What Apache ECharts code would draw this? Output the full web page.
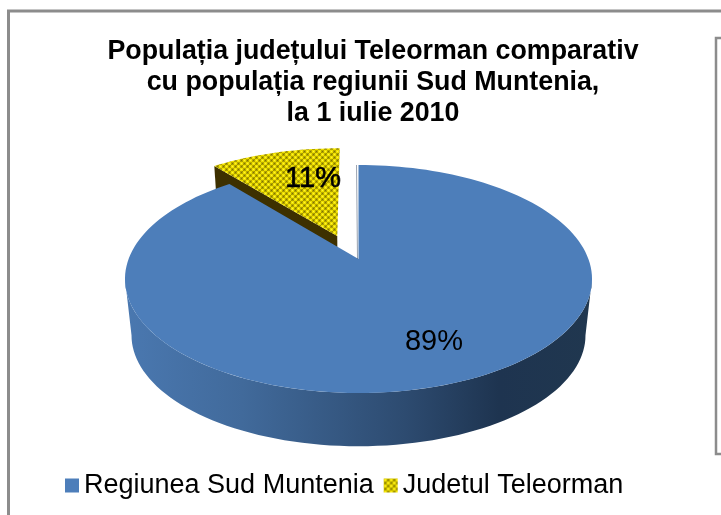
<!DOCTYPE html>
<html>
<head>
<meta charset="utf-8">
<style>html,body{margin:0;padding:0;background:#fff}#c{width:721px;height:515px}</style>
<script src="https://cdn.jsdelivr.net/npm/echarts@6/dist/echarts.min.js"></script>
</head>
<body>
<div id="c"></div>
<script>
const titleLines = ['Populația județului Teleorman comparativ', 'cu populația regiunii Sud Muntenia,', 'la 1 iulie 2010'];
const categories = ['Regiunea Sud Muntenia', 'Judetul Teleorman'];
const shares = [89, 11];

const total = shares.reduce((a, b) => a + b, 0);
const view = { cx: 358.5, cy: 259, a: 229.9, b: 110.5, k: 0.1754, drop: 57, lower: 0.972 };
const explode = [0, 0.23];
const shift = [-4, 0];
const labelPos = [[434, 342], [313, 179]];

function tile() {
  const c = document.createElement('canvas');
  c.width = 6; c.height = 6;
  const g = c.getContext('2d');
  g.fillStyle = '#7f7300'; g.fillRect(0, 0, 6, 6);
  const balls = [[1.5, 1.5], [4.5, 4.5], [7.5, 1.5], [-1.5, 4.5], [4.5, -1.5], [1.5, 7.5]];
  balls.forEach(b => {
    g.fillStyle = '#efe000';
    g.beginPath(); g.arc(b[0], b[1], 2, 0, Math.PI * 2); g.fill();
  });
  g.fillStyle = '#fff53c';
  g.fillRect(1, 1, 1, 1); g.fillRect(4, 4, 1, 1);
  return c;
}
const patternFill = { image: tile(), repeat: 'repeat' };
const wedgeFill = ['#4d7eba', patternFill];
const wallFill = [{
  type: 'linear', x: 0, y: 0, x2: 1, y2: 0,
  colorStops: [
    { offset: 0, color: '#4a78b0' }, { offset: 0.25, color: '#416a9b' },
    { offset: 0.6, color: '#2d4b70' }, { offset: 0.8, color: '#1e3450' }, { offset: 1, color: '#20374f' }
  ]
}, '#3d3000'];

function project(x, y, low) {
  const w = 1 + view.k * y;
  const X = view.a * x / w;
  const Y = -view.b * y / w;
  return low
    ? [view.cx + view.lower * X, view.cy + view.drop + view.lower * Y]
    : [view.cx + X, view.cy + Y];
}
function rim(deg, off, low) {
  const t = deg * Math.PI / 180;
  return project(Math.sin(t) + off[0], Math.cos(t) + off[1], low);
}
function arc(from, to, off, low) {
  const pts = [];
  const n = Math.max(8, Math.round(Math.abs(to - from) / 2));
  for (let i = 0; i <= n; i++) pts.push(rim(from + (to - from) * i / n, off, low));
  return pts;
}
function poly(points, fill, extra) {
  return Object.assign({ type: 'polygon', shape: { points }, style: { fill }, silent: true }, extra || {});
}
function move(pts, d) { return pts.map(p => [p[0] + d[0], p[1] + d[1]]); }

function renderWedge(i) {
  return function (params, api) {
    const before = shares.slice(0, i).reduce((a, b) => a + b, 0);
    const start = before / total * 360;
    const end = (before + api.value(0)) / total * 360;
    const mid = (start + end) / 2 * Math.PI / 180;
    const e = explode[i];
    const off = [Math.sin(mid) * e, Math.cos(mid) * e];
    const d = i === 1 ? shift : [0, 0];
    const apex = project(off[0], off[1], false);
    const apexLow = project(off[0], off[1], true);
    const kids = [];
    if (i === 0) {
      const a = Math.max(start, 100), b = Math.min(end, 260);
      const top = arc(a, b, off, false);
      const bot = arc(a, b, off, true).reverse();
      kids.push(poly(top.concat(bot), wallFill[i]));
    } else {
      const corner = rim(start, off, false);
      const cornerLow = rim(start, off, true);
      kids.push(poly(move([corner, apex, apexLow, cornerLow], d), wallFill[i]));
    }
    kids.push(poly(move(arc(start, end, off, false).concat([apex]), d), wedgeFill[i]));
    if (i === 0) {
      const back = rim(start, off, false);
      kids.push({ type: 'line', shape: { x1: apex[0] - 1, y1: apex[1], x2: back[0] - 2, y2: back[1] },
        style: { stroke: 'rgba(30,50,80,0.45)', lineWidth: 1 }, silent: true });
    }
    kids.push({
      type: 'text', silent: true, x: labelPos[i][0], y: labelPos[i][1],
      style: { text: api.value(0) + '%', fill: '#000', font: '29px "Liberation Sans", Arial, sans-serif', align: 'center', verticalAlign: 'middle',
        stroke: i === 1 ? '#000' : null, lineWidth: i === 1 ? 0.6 : 0 }
    });
    return { type: 'group', children: kids };
  };
}

const frame = '#8c8c8c';
const chart = echarts.init(document.getElementById('c'), null, { renderer: 'canvas' });
chart.setOption({
  animation: false,
  backgroundColor: '#fff',
  title: {
    text: titleLines.join('\n'),
    left: 368, top: 31, textAlign: 'center',
    textStyle: { fontFamily: '"Liberation Sans", Arial, sans-serif', fontWeight: 'bold', fontSize: 26.8, lineHeight: 31, color: '#000' }
  },
  legend: {
    left: 60, top: 467, itemWidth: 14, itemHeight: 14, itemGap: 10, icon: 'rect', selectedMode: false,
    textStyle: { fontFamily: '"Liberation Sans", Arial, sans-serif', fontSize: 27, color: '#000' },
    data: categories.map((name, i) => ({ name, itemStyle: { color: wedgeFill[i] } }))
  },
  graphic: [
    { type: 'polyline', shape: { points: [[8.5, 515], [8.5, 11], [721, 11]] }, style: { stroke: frame, lineWidth: 3, fill: null }, silent: true },
    { type: 'polyline', shape: { points: [[721, 38], [716, 38], [716, 454], [721, 454]] }, style: { stroke: frame, lineWidth: 2.5, fill: null }, silent: true }
  ],
  series: categories.map((name, i) => ({
    type: 'custom', name, coordinateSystem: 'none', z: 10 - i,
    itemStyle: { color: wedgeFill[i] },
    renderItem: renderWedge(i),
    data: [[shares[i]]]
  }))
});
</script>
</body>
</html>
